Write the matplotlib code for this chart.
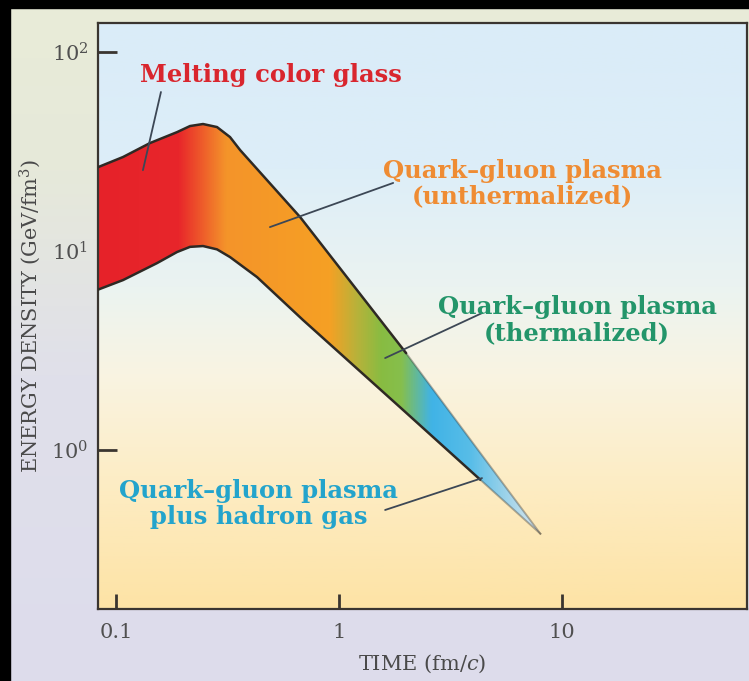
import numpy as np
import matplotlib.pyplot as plt
from matplotlib.colors import LinearSegmentedColormap
from matplotlib.patches import Rectangle

plt.rcParams['font.family'] = ['DejaVu Serif']
plt.rcParams['mathtext.fontset'] = 'dejavuserif'

# band edges (time in fm/c, energy density in GeV/fm^3)
t_upper = [0.083, 0.1075, 0.142, 0.1877, 0.2147, 0.2455, 0.2837, 0.3245, 0.36, 0.67, 2.0, 8.0]
e_upper = [26.4, 29.7, 34.9, 39.6, 42.5, 43.5, 42.0, 37.4, 32.2, 14.8, 3.07, 0.38]
t_lower = [0.083, 0.1075, 0.1527, 0.1877, 0.2147, 0.2455, 0.2837, 0.3245, 0.429, 0.69, 1.88, 4.3, 8.0]
e_lower = [6.4, 7.15, 8.7, 9.89, 10.5, 10.6, 10.2, 9.33, 7.4, 4.5, 1.64, 0.71, 0.38]

x_ticks = [0.1, 1, 10]
x_ticklabels = ['0.1', '1', '10']
y_ticks = [1, 10, 100]
y_ticklabels = ['$10^0$', '$10^1$', '$10^2$']

# phase labels: text, text position, leader line start / end, colour
labels = ['Melting color glass',
          'Quark\u2013gluon plasma\n(unthermalized)',
          'Quark\u2013gluon plasma\n(thermalized)',
          'Quark\u2013gluon plasma\nplus hadron gas']
label_pos = [(0.495, 76.6), (6.62, 21.8), (11.7, 4.5), (0.435, 0.536)]
leader_from = [(0.159, 63.0), (1.75, 22.0), (4.38, 4.88), (1.61, 0.50)]
leader_to = [(0.132, 25.5), (0.49, 13.2), (1.61, 2.9), (4.38, 0.723)]
label_colors = ['#d9262e', '#ef8c33', '#23956a', '#23a4cc']

# colour of the band along the time axis
grad_t = [0.083, 0.19, 0.24, 0.31, 0.9, 1.2, 1.55, 1.9, 2.6, 3.9, 8.0]
grad_c = ['#e62229', '#e8262b', '#ee5a2a', '#f4942a', '#f6a024', '#b8b23a',
          '#88bc42', '#86bf4c', '#40b3e6', '#58bde8', '#dfe8ec']

xmin, xmax = 0.083, 67.6
ymin, ymax = 0.159, 140

fig = plt.figure(figsize=(7.49, 6.81), dpi=100)

# outer panel background
bg = fig.add_axes([0, 0, 1, 1], zorder=-10)
bg.axis('off')
bg_cmap = LinearSegmentedColormap.from_list(
    'panel', [(0, '#dddcec'), (0.45, '#e0e0ea'), (0.75, '#e6e9da'), (1, '#e9ecd8')])
bg.imshow(np.linspace(0, 1, 256)[:, None], extent=(0, 1, 0, 1), origin='lower',
          aspect='auto', cmap=bg_cmap)
bg.set_xlim(0, 1)
bg.set_ylim(0, 1)
fig.patches.append(Rectangle((0, 0), 10 / 749, 1, transform=fig.transFigure,
                             color='black', zorder=5))
fig.patches.append(Rectangle((0, 1 - 8 / 681), 1, 8 / 681, transform=fig.transFigure,
                             color='black', zorder=5))

pos = [98 / 749, 1 - 609 / 681, (747 - 98) / 749, (609 - 23) / 681]

# plot area background
axbg = fig.add_axes(pos, zorder=-5)
axbg.axis('off')
ax_cmap = LinearSegmentedColormap.from_list(
    'sky', [(0, '#fde3a5'), (0.2, '#fdecc2'), (0.4, '#f9f4e2'), (0.55, '#ebf3f1'),
            (0.75, '#ddeef8'), (1, '#daecf8')])
axbg.imshow(np.linspace(0, 1, 256)[:, None], extent=(0, 1, 0, 1), origin='lower',
            aspect='auto', cmap=ax_cmap)
axbg.set_xlim(0, 1)
axbg.set_ylim(0, 1)

ax = fig.add_axes(pos)
ax.set_facecolor('none')
ax.set_xscale('log')
ax.set_yscale('log')
ax.set_xlim(xmin, xmax)
ax.set_ylim(ymin, ymax)

# band outline polygon used as clip path for the colour gradient
poly = ax.fill(np.r_[t_upper, t_lower[::-1]], np.r_[e_upper, e_lower[::-1]],
               facecolor='none', edgecolor='none')[0]
lx0, lx1 = np.log10(xmin), np.log10(xmax)
frac = (np.log10(grad_t) - lx0) / (lx1 - lx0)
f0, f1 = frac[0], frac[-1]
band_cmap = LinearSegmentedColormap.from_list(
    'band', list(zip((frac - f0) / (f1 - f0), grad_c)))
im = ax.imshow(np.linspace(0, 1, 512)[None, :], extent=(f0, f1, 0, 1),
               transform=ax.transAxes, cmap=band_cmap, aspect='auto',
               interpolation='bilinear', zorder=2)
im.set_clip_path(poly)

edge = '#2e2924'
for tt, ee in [(t_upper, e_upper), (t_lower, e_lower)]:
    ax.plot(tt[:-1], ee[:-1], color=edge, lw=1.8, zorder=3,
            solid_capstyle='round', solid_joinstyle='round')
    ax.plot(tt[-2:], ee[-2:], color=edge, lw=1.4, alpha=0.35, zorder=3)

for s, p, a, b, c in zip(labels, label_pos, leader_from, leader_to, label_colors):
    ax.annotate('', xy=b, xytext=a,
                arrowprops=dict(arrowstyle='-', color='#3c4755', lw=1.3,
                                shrinkA=0, shrinkB=0), zorder=4)
    ax.text(p[0], p[1], s, ha='center', va='center', color=c, fontsize=17.5,
            fontweight='bold', linespacing=1.1, zorder=4)

ax.set_xlim(xmin, xmax)
ax.set_ylim(ymin, ymax)
ax.minorticks_off()
ax.set_xticks(x_ticks)
ax.set_xticklabels(x_ticklabels)
ax.set_yticks(y_ticks)
ax.set_yticklabels(y_ticklabels)
ax.tick_params(axis='x', direction='in', length=11, width=2, color='#3a3530',
               pad=10, labelsize=15, labelcolor='#505050')
ax.tick_params(axis='y', direction='in', length=14, width=2, color='#3a3530',
               pad=7, labelsize=15, labelcolor='#505050')
for sp in ax.spines.values():
    sp.set_color('#3a3530')
    sp.set_linewidth(1.6)

ax.set_xlabel('TIME (fm/$c$)', fontsize=15, color='#4a4a4a', labelpad=8)
ax.set_ylabel('ENERGY DENSITY (GeV/fm$^3$)', fontsize=15, color='#4a4a4a', labelpad=6)

fig.savefig('out.png', dpi=100)
